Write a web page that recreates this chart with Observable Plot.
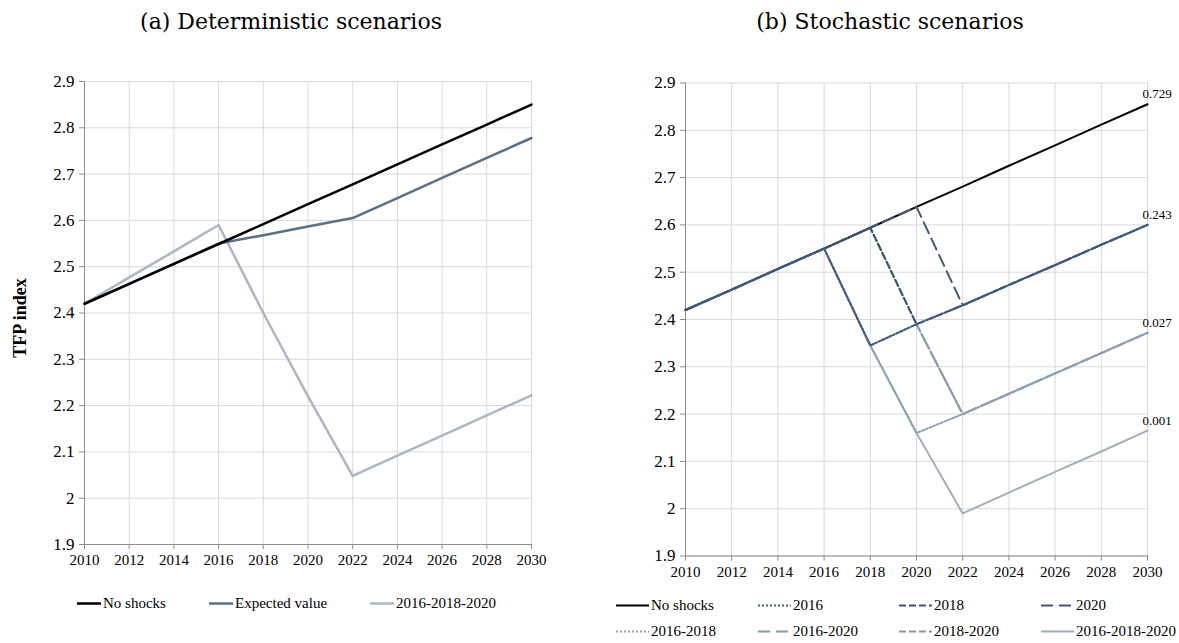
<!DOCTYPE html>
<html>
<head>
<meta charset="utf-8">
<script src="https://cdn.jsdelivr.net/npm/d3@7"></script>
<script src="https://cdn.jsdelivr.net/npm/@observablehq/plot@0.6"></script>
<style>
  body { margin: 0; background: #fff; }
  #root { position: relative; width: 1179px; height: 643px; background: #fff; font-family: "Liberation Serif", serif; color: #000; overflow: hidden; }
  .title { position: absolute; top: 9px; font-family: "DejaVu Serif", serif; font-size: 22px; transform: translateX(-50%); white-space: nowrap; }
  .panel { position: absolute; top: 0; }
  .leg { position: absolute; display: flex; align-items: center; font-size: 15px; white-space: nowrap; transform: translateY(-50%); }
  .leg svg { display: block; }
  #ylab { position: absolute; left: 20px; top: 318px; transform: translate(-50%, -50%) rotate(-90deg); font-weight: bold; font-size: 18px; white-space: nowrap; }
</style>
</head>
<body>
<div id="root">
  <div class="title" style="left:291px">(a) Deterministic scenarios</div>
  <div class="title" style="left:890px">(b) Stochastic scenarios</div>
  <div id="ylab">TFP index</div>
  <div id="left" class="panel" style="left:0px"></div>
  <div id="right" class="panel" style="left:590px"></div>
</div>
<script>
// ---------- data ----------
const years = [2010, 2012, 2014, 2016, 2018, 2020, 2022, 2024, 2026, 2028, 2030];
const yTicks = [1.9, 2.0, 2.1, 2.2, 2.3, 2.4, 2.5, 2.6, 2.7, 2.8, 2.9];

// (a) deterministic
const detNames = ["No shocks", "Expected value", "2016-2018-2020"];
const detNoShocks = [2.42, 2.463, 2.506, 2.549, 2.592, 2.635, 2.678, 2.721, 2.764, 2.807, 2.85];
const detExpected = [2.42, 2.463, 2.506, 2.55, 2.568, 2.587, 2.605, 2.648, 2.692, 2.735, 2.778];
const detTriple   = [2.42, 2.477, 2.533, 2.59, 2.40, 2.22, 2.048, 2.092, 2.135, 2.179, 2.222];

// (b) stochastic
const stoNames = ["No shocks", "2016", "2018", "2020", "2016-2018", "2016-2020", "2018-2020", "2016-2018-2020"];
const stoNoShocks = [2.42, 2.463, 2.507, 2.55, 2.594, 2.638, 2.681, 2.725, 2.768, 2.812, 2.855];
const sto2016     = [2.42, 2.463, 2.507, 2.55, 2.345, 2.39, 2.43, 2.473, 2.515, 2.558, 2.60];
const sto2018     = [2.42, 2.463, 2.507, 2.55, 2.594, 2.39, 2.43, 2.473, 2.515, 2.558, 2.60];
const sto2020     = [2.42, 2.463, 2.507, 2.55, 2.594, 2.638, 2.43, 2.473, 2.515, 2.558, 2.60];
const sto2016_2018 = [2.42, 2.463, 2.507, 2.55, 2.345, 2.16, 2.20, 2.243, 2.286, 2.329, 2.372];
const sto2016_2020 = [2.42, 2.463, 2.507, 2.55, 2.345, 2.39, 2.20, 2.243, 2.286, 2.329, 2.372];
const sto2018_2020 = [2.42, 2.463, 2.507, 2.55, 2.594, 2.39, 2.20, 2.243, 2.286, 2.329, 2.372];
const sto2016_2018_2020 = [2.42, 2.463, 2.507, 2.55, 2.345, 2.16, 1.99, 2.034, 2.078, 2.121, 2.165];
const endLabels = ["0.729", "0.243", "0.027", "0.001"];

// ---------- helpers ----------
const rows = arr => years.map((year, i) => ({year, value: arr[i]})).filter(d => d.value != null);
const fmtY = d => String(+d.toFixed(1));
const GRID = "#d9d9d9", AXIS = "#8c8c8c";

function frame() {
  return [
    Plot.gridX(years, {stroke: GRID, strokeOpacity: 1}),
    Plot.gridY(yTicks, {stroke: GRID, strokeOpacity: 1}),
    Plot.ruleX([2010], {stroke: AXIS}),
    Plot.ruleY([1.9], {stroke: AXIS}),
    Plot.axisX(years, {tickSize: 5, tickPadding: 5, tickFormat: d => String(d), stroke: AXIS, fill: "#000", fontSize: 15}),
    Plot.axisY(yTicks, {tickSize: 5, tickPadding: 5, tickFormat: fmtY, stroke: AXIS, fill: "#000", fontSize: 17})
  ];
}

// ---------- styles ----------
const detStyle = {
  "No shocks": {stroke: "#000000", dash: null},
  "Expected value": {stroke: "#5b6f88", dash: null},
  "2016-2018-2020": {stroke: "#adb6c3", dash: null}
};
const stoStyle = {
  "No shocks": {stroke: "#000000", dash: null},
  "2016": {stroke: "#3d5a80", dash: "2,2"},
  "2018": {stroke: "#3a5275", dash: "7,3"},
  "2020": {stroke: "#44597a", dash: "12,6"},
  "2016-2018": {stroke: "#8fa0b8", dash: "2,2"},
  "2016-2020": {stroke: "#8a9ab0", dash: "12,6"},
  "2018-2020": {stroke: "#8594a8", dash: "7,3"},
  "2016-2018-2020": {stroke: "#a3aebd", dash: null}
};

// ---------- left chart ----------
const detSeries = {"No shocks": detNoShocks, "Expected value": detExpected, "2016-2018-2020": detTriple};
const leftPlot = Plot.plot({
  width: 590, height: 600,
  marginLeft: 84, marginRight: 59, marginTop: 81, marginBottom: 56,
  style: {fontFamily: "Liberation Serif", fontSize: "15px", color: "#000", background: "transparent"},
  x: {domain: [2010, 2030], label: null},
  y: {domain: [1.9, 2.9], label: null},
  marks: [
    ...frame(),
    ...["2016-2018-2020", "Expected value", "No shocks"].map(n =>
      Plot.line(rows(detSeries[n]), {x: "year", y: "value", stroke: detStyle[n].stroke, strokeWidth: 2.5}))
  ]
});
document.getElementById("left").appendChild(leftPlot);

// ---------- right chart ----------
const stoSeries = {
  "No shocks": stoNoShocks, "2016": sto2016, "2018": sto2018, "2020": sto2020,
  "2016-2018": sto2016_2018, "2016-2020": sto2016_2020, "2018-2020": sto2018_2020,
  "2016-2018-2020": sto2016_2018_2020
};
const drawOrder = ["No shocks", "2016-2018-2020", "2018-2020", "2016-2020", "2016-2018", "2020", "2018", "2016"];
const endRows = [stoNoShocks, sto2016, sto2016_2018, sto2016_2018_2020].map((arr, i) => ({
  year: years[years.length - 1], value: arr[arr.length - 1], label: endLabels[i]
}));
const rightPlot = Plot.plot({
  width: 589, height: 600,
  marginLeft: 95, marginRight: 32, marginTop: 82.5, marginBottom: 44.5,
  style: {fontFamily: "Liberation Serif", fontSize: "15px", color: "#000", background: "transparent", overflow: "visible"},
  x: {domain: [2010, 2030], label: null},
  y: {domain: [1.9, 2.9], label: null},
  marks: [
    ...frame(),
    ...drawOrder.map(n => Plot.line(rows(stoSeries[n]), {
      x: "year", y: "value", stroke: stoStyle[n].stroke, strokeWidth: 2,
      strokeDasharray: stoStyle[n].dash || undefined
    })),
    Plot.text(endRows, {x: "year", y: "value", text: "label", textAnchor: "start", dx: -5, dy: -10, fontSize: 13, fill: "#000"})
  ]
});
document.getElementById("right").appendChild(rightPlot);

// ---------- legends ----------
const root = document.getElementById("root");
function legendItem(name, style, x, y, len, gap, width) {
  const div = document.createElement("div");
  div.className = "leg";
  div.style.left = x + "px";
  div.style.top = y + "px";
  const ns = "http://www.w3.org/2000/svg";
  const svg = document.createElementNS(ns, "svg");
  svg.setAttribute("width", len + gap);
  svg.setAttribute("height", 8);
  const line = document.createElementNS(ns, "line");
  line.setAttribute("x1", 0); line.setAttribute("x2", len);
  line.setAttribute("y1", 4); line.setAttribute("y2", 4);
  line.setAttribute("stroke", style.stroke);
  line.setAttribute("stroke-width", width);
  if (style.dash) line.setAttribute("stroke-dasharray", style.dash);
  svg.appendChild(line);
  div.appendChild(svg);
  const span = document.createElement("span");
  span.textContent = name;
  div.appendChild(span);
  root.appendChild(div);
}
const leftLegX = [77, 209, 370];
detNames.forEach((n, i) => legendItem(n, detStyle[n], leftLegX[i], 603, 24, 2, 2.5));
const rightLegX = [616, 758, 899, 1041];
stoNames.forEach((n, i) => legendItem(n, stoStyle[n], rightLegX[i % 4], i < 4 ? 605 : 631, 33, 2, 2));
</script>
</body>
</html>
